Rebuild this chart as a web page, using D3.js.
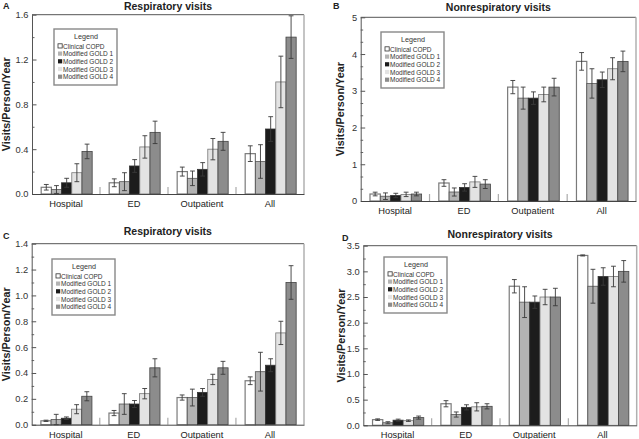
<!DOCTYPE html>
<html>
<head>
<meta charset="utf-8">
<script src="https://cdn.jsdelivr.net/npm/d3@7"></script>
<style>
  body { margin: 0; background: #fff; }
  svg { font-family: "Liberation Sans", Arial, sans-serif; display: block; }
</style>
</head>
<body>
<div id="canvas"></div>
<script>
// categories and series
const categories = ["Hospital", "ED", "Outpatient", "All"];
const series = ["Clinical COPD", "Modified GOLD 1", "Modified GOLD 2", "Modified GOLD 3", "Modified GOLD 4"];

// A: respiratory visits (values per category, 5 series each)
const respA    = [[0.06, 0.04, 0.10, 0.19, 0.38], [0.10, 0.11, 0.25, 0.42, 0.55], [0.20, 0.14, 0.22, 0.40, 0.47], [0.36, 0.29, 0.58, 1.00, 1.40]];
const respAErr = [[0.025, 0.035, 0.04, 0.08, 0.065], [0.035, 0.08, 0.057, 0.10, 0.10], [0.04, 0.065, 0.06, 0.095, 0.08], [0.07, 0.15, 0.11, 0.23, 0.19]];
const ticksA = [0, 0.4, 0.8, 1.2, 1.6];

// B: nonrespiratory visits
const nonrespB    = [[0.19, 0.13, 0.15, 0.18, 0.19], [0.49, 0.245, 0.37, 0.52, 0.46], [3.1, 2.8, 2.8, 2.9, 3.1], [3.8, 3.2, 3.3, 3.6, 3.8]];
const nonrespBErr = [[0.05, 0.09, 0.06, 0.06, 0.05], [0.09, 0.11, 0.10, 0.15, 0.12], [0.18, 0.3, 0.17, 0.2, 0.24], [0.24, 0.4, 0.21, 0.3, 0.28]];
const ticksB = [0, 1, 2, 3, 4, 5];

// C: respiratory visits
const respC    = [[0.03, 0.04, 0.05, 0.12, 0.22], [0.09, 0.16, 0.16, 0.24, 0.44], [0.21, 0.21, 0.25, 0.35, 0.44], [0.34, 0.41, 0.46, 0.71, 1.10]];
const respCErr = [[0.005, 0.04, 0.01, 0.035, 0.035], [0.02, 0.08, 0.027, 0.04, 0.07], [0.02, 0.065, 0.03, 0.04, 0.05], [0.03, 0.15, 0.05, 0.09, 0.13]];
const ticksC = [0, 0.2, 0.4, 0.6, 0.8, 1.0, 1.2, 1.4];

// D: nonrespiratory visits
const nonrespD    = [[0.11, 0.05, 0.10, 0.09, 0.15], [0.42, 0.21, 0.35, 0.36, 0.37], [2.71, 2.40, 2.40, 2.50, 2.50], [3.31, 2.71, 2.90, 2.90, 3.00]];
const nonrespDErr = [[0.015, 0.02, 0.02, 0.015, 0.03], [0.06, 0.05, 0.05, 0.08, 0.05], [0.13, 0.3, 0.12, 0.15, 0.17], [0.01, 0.33, 0.17, 0.2, 0.21]];
const ticksD = [0, 0.5, 1.0, 1.5, 2.0, 2.5, 3.0, 3.5];

const fills = ["#ffffff", "#b3b3b3", "#1c1c1c", "#e3e3e3", "#8c8c8c"];
const strokes = ["#7a7a7a", "#555", "#333", "#777", "#444"];

const W = 639, H = 439;
const svg = d3.select("#canvas").append("svg").attr("width", W).attr("height", H);

const panels = [
  {letter: "A", title: "Respiratory visits", vals: respA, errs: respAErr, ticks: ticksA, minor: 0.2, fmt: ".1f",
   l: 32, r: 304, t: 14.7, b: 194, titleY: 9.5, letterPos: [3, 9], ylabX: 10, legend: [54, 29]},
  {letter: "B", title: "Nonrespiratory visits", vals: nonrespB, errs: nonrespBErr, ticks: ticksB, minor: 1 / 3, fmt: "d",
   l: 360.7, r: 636, t: 17.3, b: 201, titleY: 10.5, letterPos: [333, 9], ylabX: 344, legend: [381, 32]},
  {letter: "C", title: "Respiratory visits", vals: respC, errs: respCErr, ticks: ticksC, minor: 0.1, fmt: ".1f",
   l: 31.7, r: 304, t: 243.7, b: 424.7, titleY: 235, letterPos: [3, 239], ylabX: 9.5, legend: [52, 259]},
  {letter: "D", title: "Nonrespiratory visits", vals: nonrespD, errs: nonrespDErr, ticks: ticksD, minor: 0.25, fmt: ".1f",
   l: 363.3, r: 636.7, t: 245.7, b: 425.3, titleY: 238, letterPos: [342, 241], ylabX: 345, legend: [384, 257]}
];

panels.forEach(drawPanel);

function drawPanel(p) {
  const g = svg.append("g");
  const ymax = p.ticks[p.ticks.length - 1];
  const y = d3.scaleLinear().domain([0, ymax]).range([p.b, p.t]);
  const x0 = d3.scaleBand().domain(categories).range([p.l, p.r]).padding(0);
  const bw = x0.bandwidth();
  const x1 = d3.scaleBand().domain(series).range([bw * 0.135, bw * 0.885]).padding(0);

  // frame: top dark, right light
  g.append("line").attr("x1", p.l).attr("x2", p.r).attr("y1", p.t).attr("y2", p.t)
    .attr("stroke", "#555").attr("stroke-width", 1);
  g.append("line").attr("x1", p.r).attr("x2", p.r).attr("y1", p.t).attr("y2", p.b)
    .attr("stroke", "#b0b0b0").attr("stroke-width", 1.5);

  // bars
  categories.forEach((c, ci) => {
    const gg = g.append("g").attr("transform", `translate(${x0(c)},0)`);
    gg.selectAll("rect").data(series).join("rect")
      .attr("x", s => x1(s))
      .attr("y", (s, i) => y(p.vals[ci][i]))
      .attr("width", x1.bandwidth())
      .attr("height", (s, i) => p.b - y(p.vals[ci][i]))
      .attr("fill", (s, i) => fills[i])
      .attr("stroke", (s, i) => strokes[i])
      .attr("stroke-width", (s, i) => i === 0 ? 1.2 : 0.8);
    // error bars
    const cap = 2.4;
    series.forEach((s, i) => {
      const cx = x1(s) + x1.bandwidth() / 2;
      const hi = y(p.vals[ci][i] + p.errs[ci][i]);
      const lo = y(Math.max(0, p.vals[ci][i] - p.errs[ci][i]));
      const eg = gg.append("g").attr("stroke", "#3a3a3a").attr("stroke-width", 0.9);
      eg.append("line").attr("x1", cx).attr("x2", cx).attr("y1", hi).attr("y2", lo);
      eg.append("line").attr("x1", cx - cap).attr("x2", cx + cap).attr("y1", hi).attr("y2", hi);
      eg.append("line").attr("x1", cx - cap).attr("x2", cx + cap).attr("y1", lo).attr("y2", lo);
    });
  });

  // group separators
  g.selectAll(".sep").data(categories.slice(1)).join("line")
    .attr("x1", c => x0(c)).attr("x2", c => x0(c))
    .attr("y1", p.b).attr("y2", p.b - 7)
    .attr("stroke", "#aaa").attr("stroke-width", 1.2);

  // minor y ticks
  const minorVals = d3.range(0, ymax + 1e-9, p.minor).filter(v => !p.ticks.some(t => Math.abs(t - v) < 1e-6));
  g.append("g").attr("transform", `translate(${p.l},0)`)
    .call(d3.axisLeft(y).tickValues(minorVals).tickSize(-2.5).tickFormat(""))
    .call(a => a.select(".domain").remove())
    .call(a => a.selectAll("line").attr("stroke", "#666"));

  // major y axis
  g.append("g").attr("transform", `translate(${p.l},0)`)
    .call(d3.axisLeft(y).tickValues(p.ticks).tickSize(-4.5).tickSizeOuter(0).tickPadding(3.5).tickFormat(d3.format(p.fmt)))
    .call(a => a.select(".domain").attr("stroke", "#555"))
    .call(a => a.selectAll("line").attr("stroke", "#555"))
    .call(a => a.selectAll("text").attr("font-size", 9.3).attr("fill", "#333")
      .attr("font-family", "'Liberation Sans', Arial, sans-serif"));

  // x axis
  g.append("g").attr("transform", `translate(0,${p.b})`)
    .call(d3.axisBottom(x0).tickSize(0).tickSizeOuter(0).tickPadding(6.4))
    .call(a => a.select(".domain").attr("stroke", "#444"))
    .call(a => a.selectAll("text").attr("font-size", 9.3).attr("fill", "#222")
      .attr("font-family", "'Liberation Sans', Arial, sans-serif"));

  // title, letter, y label
  g.append("text").attr("x", (p.l + p.r) / 2).attr("y", p.titleY)
    .attr("text-anchor", "middle").attr("font-size", 10.5).attr("font-weight", "bold").attr("fill", "#222")
    .text(p.title);
  g.append("text").attr("x", p.letterPos[0]).attr("y", p.letterPos[1])
    .attr("font-size", 9).attr("font-weight", "bold").attr("fill", "#222").text(p.letter);
  g.append("text")
    .attr("transform", `translate(${p.ylabX},${(p.t + p.b) / 2}) rotate(-90)`)
    .attr("text-anchor", "middle").attr("font-size", 10.8).attr("font-weight", "bold").attr("fill", "#222")
    .text("Visits/Person/Year");

  // legend
  const lg = g.append("g").attr("transform", `translate(${p.legend[0]},${p.legend[1]})`);
  lg.append("rect").attr("width", 63).attr("height", 56).attr("fill", "#fff")
    .attr("stroke", "#888").attr("stroke-width", 1.4);
  lg.append("text").attr("x", 32).attr("y", 9.5).attr("text-anchor", "middle")
    .attr("font-size", 7.2).attr("fill", "#333").text("Legend");
  const rows = lg.selectAll(".row").data(series).join("g")
    .attr("transform", (s, i) => `translate(0,${17 + i * 7.7})`);
  rows.append("rect").attr("x", 4).attr("y", -2.2).attr("width", 4.2).attr("height", 4.2)
    .attr("fill", (s, i) => fills[i]).attr("stroke", (s, i) => i === 0 ? "#333" : "none").attr("stroke-width", 0.8);
  rows.append("text").attr("x", 9).attr("y", 2.5).attr("font-size", 6.5).attr("fill", "#333").text(s => s);
}
</script>
</body>
</html>
